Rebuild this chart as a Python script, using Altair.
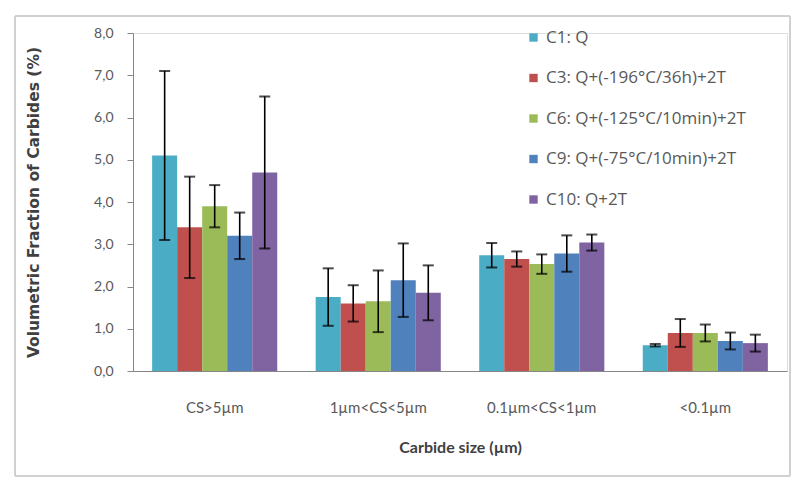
import altair as alt
import pandas as pd

categories = ["CS>5µm", "1µm<CS<5µm", "0.1µm<CS<1µm", "<0.1µm"]
series = ["C1: Q", "C3: Q+(-196°C/36h)+2T", "C6: Q+(-125°C/10min)+2T",
          "C9: Q+(-75°C/10min)+2T", "C10: Q+2T"]
colors = ["#4BACC6", "#C0504D", "#9BBB59", "#4F81BD", "#8064A2"]

# values per series across categories
c1_vals = [5.1, 1.75, 2.74, 0.61]
c3_vals = [3.4, 1.60, 2.65, 0.90]
c6_vals = [3.9, 1.65, 2.53, 0.90]
c9_vals = [3.2, 2.15, 2.78, 0.71]
c10_vals = [4.7, 1.85, 3.04, 0.66]

c1_err = [2.0, 0.68, 0.29, 0.03]
c3_err = [1.2, 0.43, 0.18, 0.33]
c6_err = [0.5, 0.73, 0.23, 0.20]
c9_err = [0.55, 0.87, 0.43, 0.20]
c10_err = [1.8, 0.65, 0.19, 0.20]

vals = [c1_vals, c3_vals, c6_vals, c9_vals, c10_vals]
errs = [c1_err, c3_err, c6_err, c9_err, c10_err]

rows = []
for s, v, e in zip(series, vals, errs):
    for c, vv, ee in zip(categories, v, e):
        rows.append({"size": c, "series": s, "value": vv,
                     "lo": vv - ee, "hi": vv + ee})
df = pd.DataFrame(rows)

font = "Lato"
xenc = alt.X("size:N", sort=categories,
             scale=alt.Scale(paddingInner=0.235, paddingOuter=0.117),
             axis=alt.Axis(title="Carbide size (µm)", labelAngle=0,
                           labelPadding=29, titlePadding=24, ticks=False,
                           labelFontSize=15, titleFontSize=16,
                           labelColor="#595959", titleColor="#404040",
                           titleFontWeight="bold", domainColor="#868686",
                           labelFont=font, titleFont=font))
xoff = alt.XOffset("series:N", sort=series)

bars = alt.Chart(df).mark_bar().encode(
    x=xenc, xOffset=xoff,
    y=alt.Y("value:Q", scale=alt.Scale(domain=[0, 8], nice=False),
            axis=alt.Axis(title="Volumetric Fraction of Carbides (%)",
                          values=[0, 1, 2, 3, 4, 5, 6, 7, 8],
                          labelExpr="replace(format(datum.value, '.1f'), '.', ',')",
                          grid=False, tickSize=6, labelPadding=14,
                          titlePadding=52, labelFontSize=14, titleFontSize=15.5,
                          labelColor="#595959", titleColor="#404040",
                          titleFontWeight="bold", domainColor="#868686",
                          tickColor="#868686", labelFont=font,
                          titleFont="DejaVu Sans")),
    color=alt.Color("series:N", sort=series,
                    scale=alt.Scale(domain=series, range=colors),
                    legend=alt.Legend(title=None, orient="none", legendX=392,
                                      legendY=-4, symbolType="square",
                                      symbolSize=70, symbolStrokeWidth=0,
                                      labelFontSize=17, labelColor="#595959",
                                      labelFont="Open Sans", rowPadding=22.5,
                                      labelLimit=400)),
)

rules = alt.Chart(df).mark_rule(color="black", strokeWidth=1.6).encode(
    x=alt.X("size:N", sort=categories), xOffset=xoff,
    y="lo:Q", y2="hi:Q")

caps_lo = alt.Chart(df).mark_tick(color="black", thickness=2, size=11).encode(
    x=alt.X("size:N", sort=categories), xOffset=xoff, y="lo:Q")
caps_hi = alt.Chart(df).mark_tick(color="black", thickness=2, size=11).encode(
    x=alt.X("size:N", sort=categories), xOffset=xoff, y="hi:Q")

border = alt.Chart(df).mark_rect(fill=None, stroke="#d0d0d0", strokeWidth=1).encode(
    x=alt.value(-118), x2=alt.value(657), y=alt.value(-17), y2=alt.value(443))

chart = alt.layer(bars, rules, caps_lo, caps_hi, border).properties(
    width=654, height=338,
    autosize=alt.AutoSizeParams(type="none"),
    padding={"left": 125, "top": 25, "right": 6, "bottom": 112},
).configure_view(stroke=None).configure(background="white")

chart.save("out.html", embed_options={"renderer": "svg", "actions": False})
